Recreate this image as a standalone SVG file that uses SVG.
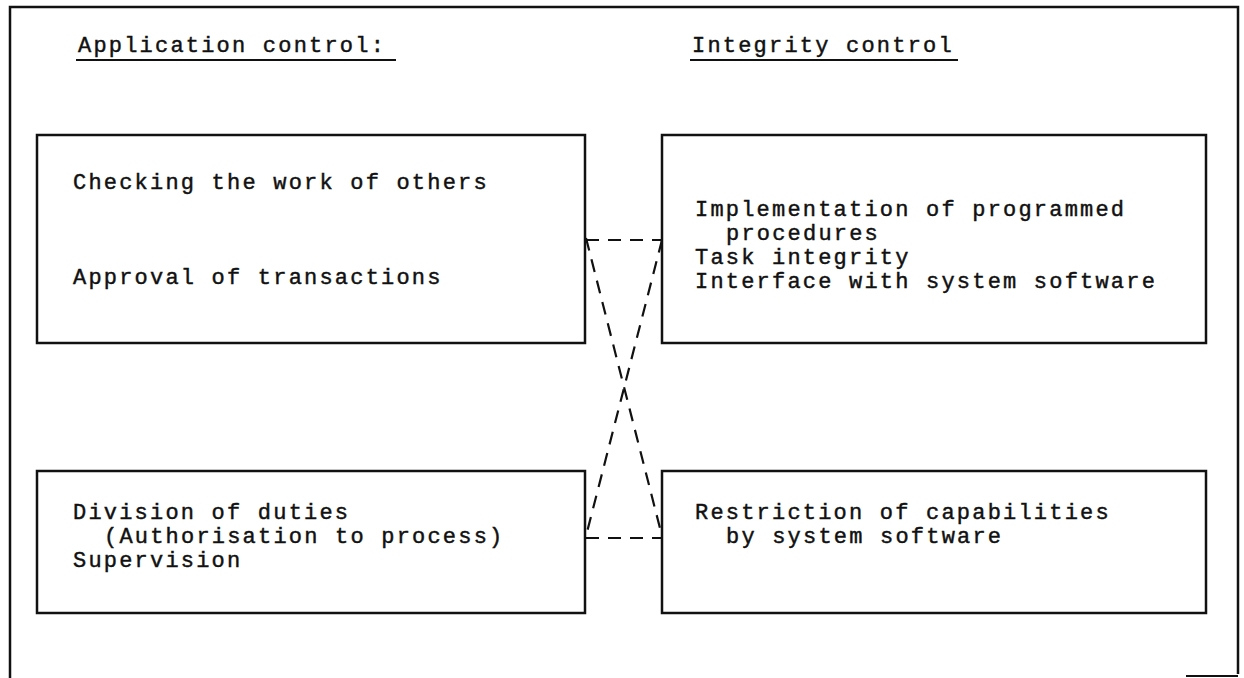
<svg xmlns="http://www.w3.org/2000/svg" width="1244" height="678" viewBox="0 0 1244 678">
  <style>
    .frame { fill: none; stroke: #111; stroke-width: 2.5; }
    .box { fill: none; stroke: #111; stroke-width: 2.5; }
    .link { fill: none; stroke: #111; stroke-width: 2.2; stroke-dasharray: 13 9; }
    .t { font-family: "Liberation Mono", "DejaVu Sans Mono", monospace; font-size: 22px; letter-spacing: 2.2px; fill: #111; stroke: #111; stroke-width: 0.45; white-space: pre; }
    .ul { stroke: #111; stroke-width: 2; }
  </style>

  <!-- outer frame: open along the bottom edge -->
  <g id="frame">
    <path class="frame" d="M10 678 V7 H1238 V674"/>
    <line class="ul" x1="1186" y1="676" x2="1238" y2="676" stroke-width="1"/>
  </g>

  <!-- column headings -->
  <g id="heading-application">
    <text class="t" x="78" y="52">Application control:</text>
    <line class="ul" x1="76" y1="60" x2="396" y2="60"/>
  </g>
  <g id="heading-integrity">
    <text class="t" x="692" y="52">Integrity control</text>
    <line class="ul" x1="690" y1="60" x2="958" y2="60"/>
  </g>

  <!-- connectors between the two columns -->
  <g id="connectors">
    <line class="link" x1="586" y1="240" x2="662" y2="240"/>
    <line class="link" x1="586" y1="538" x2="662" y2="538"/>
    <line class="link" x1="586" y1="238" x2="662" y2="536"/>
    <line class="link" x1="662" y1="240" x2="586" y2="536"/>
  </g>

  <g id="app-top">
    <rect class="box" x="37" y="135" width="548" height="208"/>
    <text class="t" x="73" y="189">Checking the work of others</text>
    <text class="t" x="73" y="284">Approval of transactions</text>
  </g>

  <g id="integrity-top">
    <rect class="box" x="662" y="135" width="544" height="208"/>
    <text class="t" x="695" y="216">Implementation of programmed</text>
    <text class="t" x="726" y="240">procedures</text>
    <text class="t" x="695" y="264">Task integrity</text>
    <text class="t" x="695" y="288">Interface with system software</text>
  </g>

  <g id="app-bottom">
    <rect class="box" x="37" y="471" width="548" height="142"/>
    <text class="t" x="73" y="519">Division of duties</text>
    <text class="t" x="104" y="543">(Authorisation to process)</text>
    <text class="t" x="73" y="567">Supervision</text>
  </g>

  <g id="integrity-bottom">
    <rect class="box" x="662" y="471" width="544" height="142"/>
    <text class="t" x="695" y="519">Restriction of capabilities</text>
    <text class="t" x="726" y="543">by system software</text>
  </g>
</svg>
